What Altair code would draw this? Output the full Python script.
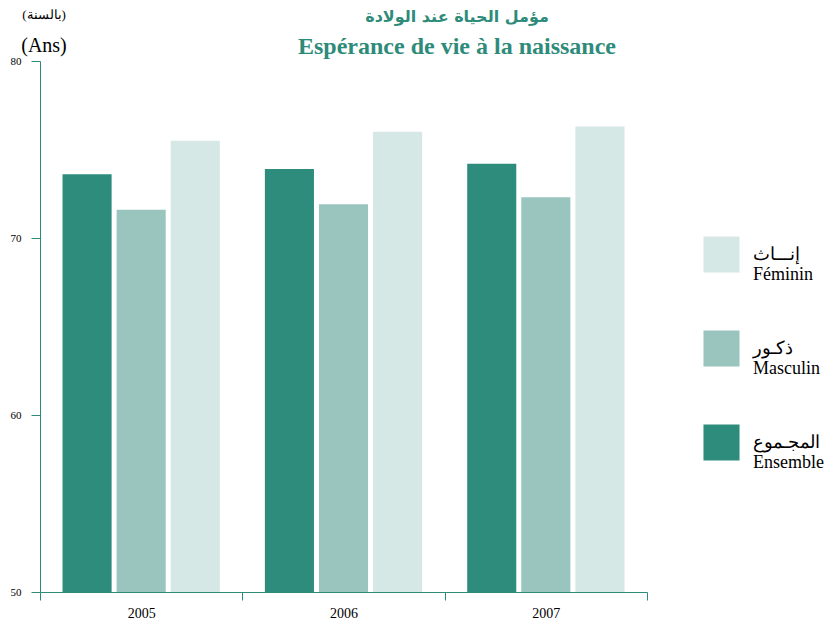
import altair as alt
import pandas as pd

years = ["2005", "2006", "2007"]
series = ["Ensemble", "Masculin", "Féminin"]
ensemble = [73.6, 73.9, 74.2]
masculin = [71.6, 71.9, 72.3]
feminin = [75.5, 76.0, 76.3]

colors = {"Féminin": "#d5e8e5", "Masculin": "#99c5be", "Ensemble": "#2e8c7c"}
teal = "#2e8b7a"

rows = []
for i, y in enumerate(years):
    rows.append({"year": y, "serie": "Ensemble", "value": ensemble[i]})
    rows.append({"year": y, "serie": "Masculin", "value": masculin[i]})
    rows.append({"year": y, "serie": "Féminin", "value": feminin[i]})
df = pd.DataFrame(rows)

legend_order = ["Féminin", "Masculin", "Ensemble"]
label_expr = ("datum.label == 'Féminin' ? ['إنـــاث', 'Féminin'] : "
              "datum.label == 'Masculin' ? ['ذكـور', 'Masculin'] : ['المجـموع', 'Ensemble']")

bars = alt.Chart(df).mark_bar(clip=True).encode(
    x=alt.X("year:N", sort=years, title=None,
            scale=alt.Scale(paddingInner=0, paddingOuter=0),
            axis=alt.Axis(labelAngle=0, tickBand="extent", domainColor=teal, tickColor=teal,
                          tickSize=8, labelPadding=6, labelFont="Liberation Serif",
                          labelFontSize=14, labelColor="black")),
    xOffset=alt.XOffset("serie:N", sort=series,
                        scale=alt.Scale(paddingInner=0.0926, paddingOuter=0.4167)),
    y=alt.Y("value:Q", title=None,
            scale=alt.Scale(domain=[50, 80], nice=False, zero=False),
            axis=alt.Axis(values=[50, 60, 70, 80], grid=False, domainColor=teal, tickColor=teal,
                          tickSize=9, labelPadding=10, labelFont="Liberation Serif",
                          labelFontSize=11, labelColor="black")),
    color=alt.Color("serie:N",
                    scale=alt.Scale(domain=legend_order, range=[colors[s] for s in legend_order]),
                    legend=alt.Legend(title=None, orient="none", legendX=663, legendY=175,
                                      symbolType="square", symbolSize=1300, symbolStrokeWidth=0,
                                      labelFont="Liberation Serif", labelFontSize=18,
                                      labelColor="black", labelExpr=label_expr,
                                      labelOffset=13, rowPadding=46, labelLimit=200)),
)

def txt(t, x, y, size, color="black", weight="normal", font="Liberation Serif"):
    return alt.Chart(pd.DataFrame({"t": [t]})).mark_text(
        font=font, fontSize=size, color=color, fontWeight=weight).encode(
        text="t:N", x=alt.value(x), y=alt.value(y))

unit_ar = txt("(بالسنة)", 4, -46, 13)
unit_fr = txt("(Ans)", 4, -15, 20)
title_ar = txt("مؤمل الحياة عند الولادة", 417, -44, 16, teal, "bold", "DejaVu Sans")
title_fr = txt("Espérance de vie à la naissance", 417, -14, 24, teal, "bold")

chart = alt.layer(bars, unit_ar, unit_fr, title_ar, title_fr).properties(
    width=607, height=531,
    autosize=alt.AutoSizeParams(type="none"),
    padding={"left": 32, "top": 53, "right": 178, "bottom": 28},
).configure_view(stroke=None)

chart.save("out.html", embed_options={"renderer": "svg", "actions": False})
